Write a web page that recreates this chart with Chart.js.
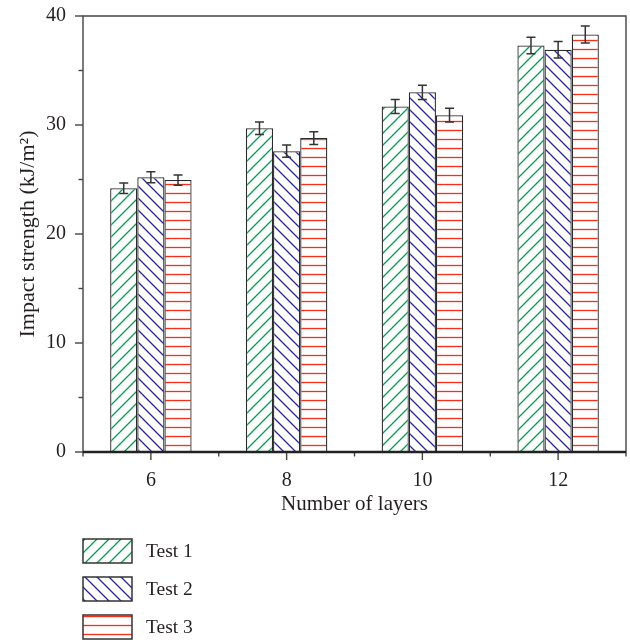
<!DOCTYPE html>
<html>
<head>
<meta charset="utf-8">
<script src="https://cdn.jsdelivr.net/npm/chart.js@4"></script>
<style>
  html, body { margin: 0; padding: 0; background: #fff; }
  #c { display: block; }
</style>
</head>
<body>
<canvas id="c" width="630" height="642"></canvas>
<script>
// ---- data ----
const categories = ['6', '8', '10', '12'];
const seriesNames = ['Test 1', 'Test 2', 'Test 3'];
const test1 = [24.2, 29.7, 31.7, 37.3];
const test2 = [25.2, 27.6, 33.0, 36.9];
const test3 = [24.95, 28.8, 30.9, 38.3];
const err1 = [0.48, 0.58, 0.64, 0.76];
const err2 = [0.50, 0.57, 0.65, 0.76];
const err3 = [0.47, 0.58, 0.63, 0.78];
const yTickValues = [0, 10, 20, 30, 40];

// ---- styling ----
const FONT = '"Liberation Serif", "Times New Roman", serif';
const TEXT = '#231f20';
const EDGE = '#2a2a2a';

const ctx = document.getElementById('c').getContext('2d');
function pat(kind, color) {
  const s = kind === 'h' ? 9 : 12;
  const c = document.createElement('canvas');
  c.width = s; c.height = s;
  const g = c.getContext('2d');
  g.fillStyle = '#fff';
  g.fillRect(0, 0, s, s);
  g.strokeStyle = color;
  g.lineWidth = 1.3;
  g.beginPath();
  if (kind === 'f') {
    g.moveTo(0, s); g.lineTo(s, 0);
    g.moveTo(-2, 2); g.lineTo(2, -2);
    g.moveTo(s - 2, s + 2); g.lineTo(s + 2, s - 2);
  } else if (kind === 'b') {
    g.moveTo(0, 0); g.lineTo(s, s);
    g.moveTo(-2, s - 2); g.lineTo(2, s + 2);
    g.moveTo(s - 2, -2); g.lineTo(s + 2, 2);
  } else {
    g.moveTo(0, 4.5); g.lineTo(s, 4.5);
  }
  g.stroke();
  return ctx.createPattern(c, 'repeat');
}
const fills = [pat('f', 'rgb(0,160,80)'), pat('b', 'rgb(45,35,145)'), pat('h', 'rgb(250,45,25)')];
const values = [test1, test2, test3];
const errors = [err1, err2, err3];

// ---- plugins ----
const errorBars = {
  id: 'errorBars',
  afterDatasetsDraw(chart) {
    const y = chart.scales.y;
    const c = chart.ctx;
    c.save();
    c.strokeStyle = '#333';
    c.lineWidth = 1.5;
    chart.data.datasets.forEach((ds, di) => {
      const meta = chart.getDatasetMeta(di);
      meta.data.forEach((bar, i) => {
        const v = ds.data[i], e = errors[di][i];
        const top = y.getPixelForValue(v + e), bot = y.getPixelForValue(v - e);
        const x = bar.x;
        c.beginPath();
        c.moveTo(x, top); c.lineTo(x, bot);
        c.moveTo(x - 4.5, top); c.lineTo(x + 4.5, top);
        c.moveTo(x - 4.5, bot); c.lineTo(x + 4.5, bot);
        c.stroke();
      });
    });
    c.restore();
  }
};

const frameAndTicks = {
  id: 'frameAndTicks',
  afterDraw(chart) {
    const {left, right, top, bottom} = chart.chartArea;
    const c = chart.ctx;
    const y = chart.scales.y, x = chart.scales.x;
    c.save();
    c.strokeStyle = '#444';
    c.lineWidth = 1.4;
    c.beginPath();
    c.moveTo(left, bottom); c.lineTo(left, top); c.lineTo(right, top); c.lineTo(right, bottom);
    c.stroke();
    for (let v = y.min; v <= y.max; v += 5) {
      const py = y.getPixelForValue(v);
      const len = (v % 10 === 0) ? 8 : 4.5;
      c.beginPath(); c.moveTo(left, py); c.lineTo(left - len, py); c.stroke();
    }
    const n = categories.length;
    for (let i = 0; i < n; i++) {
      const px = x.getPixelForValue(i);
      c.beginPath(); c.moveTo(px, bottom); c.lineTo(px, bottom + 8); c.stroke();
    }
    for (let i = 0; i <= n; i++) {
      const px = x.getPixelForValue(i - 0.5);
      c.beginPath(); c.moveTo(px, bottom); c.lineTo(px, bottom + 4.5); c.stroke();
    }
    c.strokeStyle = '#222';
    c.lineWidth = 2.5;
    c.beginPath(); c.moveTo(left, bottom); c.lineTo(right, bottom); c.stroke();
    c.restore();
  }
};

const customLegend = {
  id: 'customLegend',
  afterDraw(chart) {
    const c = chart.ctx;
    c.save();
    const boxX = 83, boxW = 49, boxH = 24, gap = 38, startY = 539;
    chart.data.datasets.forEach((ds, i) => {
      const by = startY + i * gap;
      c.fillStyle = ds.backgroundColor;
      c.fillRect(boxX, by, boxW, boxH);
      c.strokeStyle = '#333';
      c.lineWidth = 1.5;
      c.strokeRect(boxX, by, boxW, boxH);
      c.fillStyle = TEXT;
      c.font = '19.5px ' + FONT;
      c.textBaseline = 'middle';
      c.textAlign = 'left';
      c.fillText(ds.label, 146, by + boxH / 2 + 1);
    });
    c.restore();
  }
};

new Chart(ctx, {
  type: 'bar',
  data: {
    labels: categories,
    datasets: seriesNames.map((name, i) => ({
      label: name,
      data: values[i],
      backgroundColor: fills[i],
      borderColor: EDGE,
      borderWidth: 1.3,
      borderSkipped: 'bottom',
      barPercentage: 1.0,
      categoryPercentage: 0.6
    }))
  },
  options: {
    responsive: false,
    animation: false,
    devicePixelRatio: 1,
    layout: { padding: { top: 16, right: 4, left: 0, bottom: 120 } },
    plugins: { legend: { display: false }, tooltip: { enabled: false } },
    scales: {
      x: {
        grid: { display: false, drawTicks: false },
        border: { display: false },
        ticks: { font: { family: FONT, size: 20 }, color: TEXT, padding: 17 },
        title: { display: true, text: 'Number of layers', font: { family: FONT, size: 21 }, color: TEXT, padding: { top: 0, bottom: 5 } },
        afterFit(scale) {
          scale.height = 70;
          scale.paddingLeft = 0; scale.paddingRight = 0;
        }
      },
      y: {
        min: 0, max: 40,
        grid: { display: false, drawTicks: false },
        border: { display: false },
        afterBuildTicks(scale) { scale.ticks = yTickValues.map(v => ({ value: v })); },
        ticks: { font: { family: FONT, size: 20 }, color: TEXT, padding: 17 },
        title: { display: true, text: 'Impact strength (kJ/m²)', font: { family: FONT, size: 22 }, color: TEXT, padding: { top: 15, bottom: 0 } },
        afterFit(scale) {
          scale.width = 83;
          scale.paddingTop = 0; scale.paddingBottom = 0;
        }
      }
    }
  },
  plugins: [errorBars, frameAndTicks, customLegend]
});
</script>
</body>
</html>
